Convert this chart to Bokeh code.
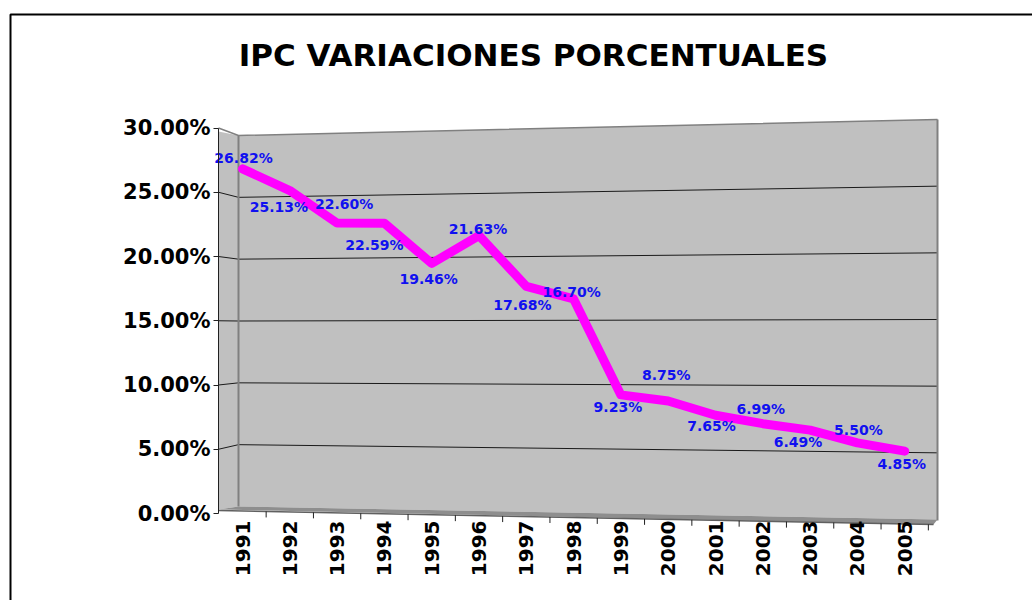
import math
from bokeh.plotting import figure
from bokeh.models import ColumnDataSource, FixedTicker, PrintfTickFormatter, Range1d
from bokeh.embed import file_html
from bokeh.resources import INLINE
from bokeh.core.properties import value

# ---------------- data ----------------
years = ["1991", "1992", "1993", "1994", "1995", "1996", "1997", "1998",
         "1999", "2000", "2001", "2002", "2003", "2004", "2005"]
ipc = [26.82, 25.13, 22.60, 22.59, 19.46, 21.63, 17.68, 16.70,
       9.23, 8.75, 7.65, 6.99, 6.49, 5.50, 4.85]
y_ticks = [0, 5, 10, 15, 20, 25, 30]
title_text = "IPC VARIACIONES PORCENTUALES"

# label placement offsets in screen pixels (style)
label_dx = [1, -11, 7, -10, -3, -1, -4, -2, -3, -2, -4, -2, -12, 1, -3]
label_dy = [-11, 16, -19, 22, 16, -7, 19, -7, 12, -26, 11, -15, 12, -13, 13]

# ---------------- layout helpers (canvas px -> data) ----------------
W, H = 1032, 600
X0, DX = 242.0, 47.3     # canvas x of first category, px per category
Y0, DY = 513.0, 12.85    # canvas y of 0 %, px per percent


def X(px):
    return (px - X0) / DX


def Y(py):
    return (Y0 - py) / DY


FONT = "DejaVu Sans"

p = figure(width=W, height=H,
           x_range=Range1d(X(0), X(W)), y_range=Range1d(Y(H), Y(0)),
           output_backend="svg", toolbar_location=None, min_border=0)
p.xgrid.visible = False
p.ygrid.visible = False
p.outline_line_color = None
p.background_fill_color = "white"
p.border_fill_color = "white"

# ---------------- outer chart border ----------------
p.line([X(10), X(10), X(W + 5)], [Y(H + 5), Y(14), Y(14)],
       line_color="black", line_width=2)

# ---------------- 3D-ish walls (decoration) ----------------
wall_fill = "#c0c0c0"
edge_col = "#808080"
p.patch([X(218), X(238), X(238), X(218)], [Y(131), Y(135), Y(506), Y(509)],
        fill_color=wall_fill, line_color=None)
p.patch([X(238), X(937), X(937), X(238)], [Y(135), Y(119), Y(519), Y(506)],
        fill_color=wall_fill, line_color=None)
p.patch([X(218), X(238), X(937), X(933)], [Y(509), Y(506), Y(519), Y(524)],
        fill_color="#8e8e8e", line_color=None)
p.line([X(218), X(933)], [Y(510), Y(524)], line_color="#606060", line_width=1.5)

n = len(y_ticks) - 1
gx0, gy0, gx1, gy1 = [], [], [], []
sx0, sy0, sx1, sy1 = [], [], [], []
for k in range(1, n):
    yl = 135 + (506 - 135) * k / n
    yr = 119 + (519 - 119) * k / n
    gx0.append(X(238)); gy0.append(Y(yl)); gx1.append(X(937)); gy1.append(Y(yr))
    sx0.append(X(218)); sy0.append(y_ticks[n - k]); sx1.append(X(238)); sy1.append(Y(yl))
p.segment(gx0, gy0, gx1, gy1, line_color="#1a1a1a", line_width=1)
p.segment(sx0, sy0, sx1, sy1, line_color="#1a1a1a", line_width=1)

p.line([X(218), X(238), X(937)], [y_ticks[-1], Y(135), Y(119)], line_color=edge_col, line_width=1.5)
p.line([X(238), X(238)], [Y(135), Y(506)], line_color=edge_col, line_width=2)
p.line([X(937), X(937)], [Y(119), Y(520)], line_color=edge_col, line_width=2)

tx, ty0, ty1 = [], [], []
for k in range(len(years)):
    xb = k + 0.5
    px = X0 + DX * xb
    fy = 510 + (px - 218) * (14 / 715)
    tx.append(xb); ty0.append(Y(fy)); ty1.append(Y(fy + 6))
p.segment(tx, ty0, tx, ty1, line_color="#202020", line_width=1)

# ---------------- data line and labels ----------------
idx = list(range(len(years)))
src = ColumnDataSource(dict(x=idx, y=ipc,
                            label=[f"{v:.2f}%" for v in ipc],
                            dx=label_dx, dy=label_dy))
p.line("x", "y", source=src, line_color="#ff00ff", line_width=9,
       line_join="round", line_cap="round")
p.text("x", "y", text="label", source=src, x_offset="dx", y_offset="dy",
       text_font=value(FONT), text_font_style="bold", text_font_size="14px",
       text_color="#1010f0", text_align="center", text_baseline="middle")

# ---------------- title ----------------
p.text(x=[X(533)], y=[Y(54)], text=[title_text], text_align="center",
       text_baseline="middle", text_font=value(FONT),
       text_font_style="bold", text_font_size="31px", text_color="black")

# ---------------- axes ----------------
ya = p.yaxis[0]
ya.fixed_location = X(218)
ya.ticker = FixedTicker(ticks=y_ticks)
ya.formatter = PrintfTickFormatter(format="%.2f%%")
ya.bounds = (y_ticks[0], y_ticks[-1])
ya.major_label_text_font = FONT
ya.major_label_text_font_style = "bold"
ya.major_label_text_font_size = "21px"
ya.major_label_text_color = "black"
ya.axis_line_color = "#202020"
ya.major_tick_line_color = "#202020"
ya.major_tick_out = 5
ya.major_tick_in = 0
ya.minor_tick_line_color = None
ya.major_label_standoff = 3

xa = p.xaxis[0]
xa.fixed_location = Y(520)
xa.ticker = FixedTicker(ticks=idx)
xa.major_label_overrides = {i: yr for i, yr in enumerate(years)}
xa.major_label_orientation = math.pi / 2
xa.major_label_text_font = FONT
xa.major_label_text_font_style = "bold"
xa.major_label_text_font_size = "20px"
xa.major_label_text_color = "black"
xa.axis_line_color = None
xa.major_tick_line_color = None
xa.minor_tick_line_color = None
xa.major_tick_out = 0
xa.major_label_standoff = 0

open("out.html", "w").write(file_html(p, INLINE))
